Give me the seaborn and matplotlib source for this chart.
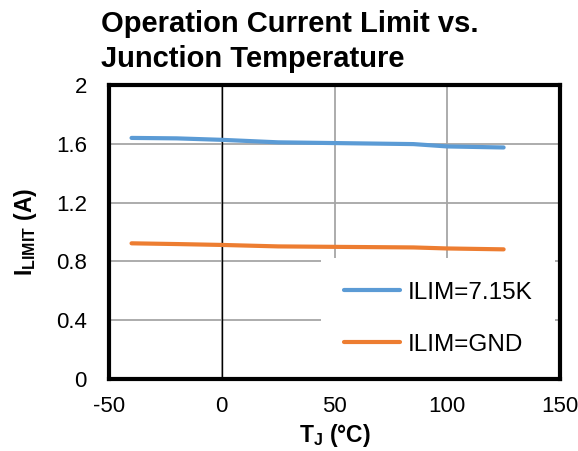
import pandas as pd
import matplotlib
matplotlib.use("Agg")
import matplotlib.pyplot as plt
import seaborn as sns

# Data
temp_c = [-40, -20, 0, 25, 50, 85, 100, 125]
ilim_715k = [1.640, 1.637, 1.627, 1.610, 1.605, 1.598, 1.582, 1.575]
ilim_gnd = [0.923, 0.918, 0.912, 0.902, 0.899, 0.895, 0.888, 0.882]
series_names = ["ILIM=7.15K", "ILIM=GND"]
x_ticks = [-50, 0, 50, 100, 150]
y_ticks = [0, 0.4, 0.8, 1.2, 1.6, 2]

df = pd.DataFrame({
    "T": temp_c * 2,
    "I": ilim_715k + ilim_gnd,
    "series": [series_names[0]] * len(temp_c) + [series_names[1]] * len(temp_c),
})

sns.set_style("white")
plt.rcParams['font.family'] = ['Liberation Sans', 'DejaVu Sans']
plt.rcParams['text.color'] = 'black'
plt.rcParams['axes.labelcolor'] = 'black'
plt.rcParams['mathtext.fontset'] = 'custom'
plt.rcParams['mathtext.bf'] = 'Liberation Sans:bold'
plt.rcParams['mathtext.rm'] = 'Liberation Sans:bold'
plt.rcParams['mathtext.default'] = 'bf'

fig = plt.figure(figsize=(5.78, 4.51), dpi=100)
ax = fig.add_axes([109 / 578, 1 - 379 / 451, 451 / 578, 294 / 451])

palette = {series_names[0]: "#5B9BD5", series_names[1]: "#ED7D31"}
sns.lineplot(data=df, x="T", y="I", hue="series", palette=palette,
             linewidth=3, ax=ax, legend=True)

ax.set_xlim(-50, 150)
ax.set_ylim(0, 2)
ax.set_xticks(x_ticks)
ax.set_yticks(y_ticks)
ax.set_xticklabels([str(v) for v in x_ticks])
ax.set_yticklabels(["0", "0.4", "0.8", "1.2", "1.6", "2"])
ax.tick_params(length=0, labelsize=16, colors="black")
ax.tick_params(axis="x", pad=12)
ax.tick_params(axis="y", pad=16)

ax.grid(True, color="#A6A6A6", linewidth=1.3)
ax.set_axisbelow(True)
ax.axvline(0, color="black", linewidth=1, zorder=1.5)

for s in ax.spines.values():
    s.set_visible(True)
    s.set_color("black")
    s.set_linewidth(3)
    s.set_zorder(3)

ax.set_xlabel(r"$T_J$ (°C)", fontsize=16.5, fontweight="bold", labelpad=4)
ax.set_ylabel(r"$I_{LIMIT}$ (A)", fontsize=16.5, fontweight="bold", labelpad=12)

leg = ax.legend(loc="lower right", bbox_to_anchor=(0.99, 0.0), fontsize=17.5,
                frameon=True, framealpha=1, facecolor="white", edgecolor="white",
                handlelength=2.3, handletextpad=0.3, labelspacing=1.25,
                borderpad=0.95, borderaxespad=0, fancybox=False)
leg.get_frame().set_linewidth(0)
leg.set_zorder(2.5)
for line in leg.get_lines():
    line.set_linewidth(3)

fig.text(101 / 578, 1 - 10 / 451, "Operation Current Limit vs.\nJunction Temperature",
         ha="left", va="top", fontsize=21, fontweight="bold", linespacing=1.3)

fig.savefig("out.png", dpi=100)
